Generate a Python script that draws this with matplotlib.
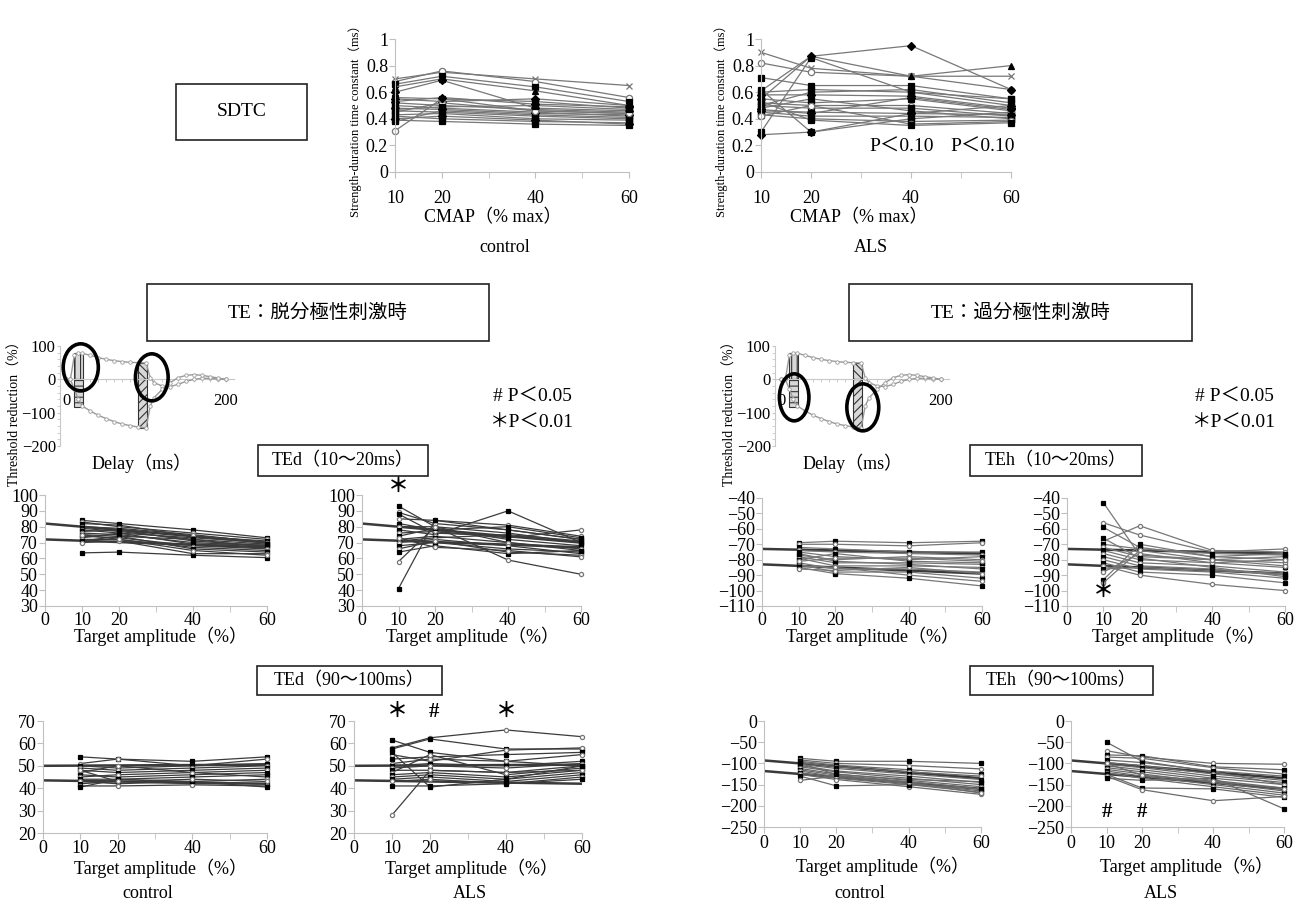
import matplotlib.pyplot as plt
from matplotlib.patches import Ellipse, Rectangle

plt.rcParams['font.family'] = ['Liberation Serif', 'Noto Sans CJK JP']
plt.rcParams['hatch.linewidth'] = 0.8

W, H = 1304, 902

# target amplitude / CMAP (%)
amp = [10, 20, 40, 60]

# strength-duration time constant (ms), one row per subject
sdtc_control = [
    [0.70, 0.75, 0.70, 0.65], [0.68, 0.76, 0.68, 0.56], [0.66, 0.72, 0.64, 0.53],
    [0.64, 0.70, 0.61, 0.50], [0.60, 0.69, 0.48, 0.46], [0.56, 0.55, 0.53, 0.48],
    [0.55, 0.53, 0.55, 0.50], [0.52, 0.50, 0.47, 0.45], [0.50, 0.48, 0.45, 0.42],
    [0.48, 0.47, 0.44, 0.43], [0.46, 0.45, 0.42, 0.40], [0.45, 0.52, 0.46, 0.44],
    [0.43, 0.44, 0.40, 0.39], [0.42, 0.40, 0.38, 0.37], [0.40, 0.42, 0.39, 0.36],
    [0.39, 0.38, 0.36, 0.35], [0.38, 0.46, 0.43, 0.41], [0.31, 0.55, 0.46, 0.44],
    [0.47, 0.49, 0.50, 0.47], [0.53, 0.56, 0.51, 0.49],
]
sdtc_als = [
    [0.90, 0.78, 0.72, 0.72], [0.82, 0.75, 0.72, 0.62], [0.71, 0.65, 0.65, 0.55],
    [0.61, 0.87, 0.72, 0.80], [0.55, 0.87, 0.95, 0.62], [0.30, 0.86, 0.60, 0.55],
    [0.28, 0.30, 0.44, 0.50], [0.62, 0.30, 0.40, 0.45], [0.60, 0.62, 0.60, 0.50],
    [0.58, 0.58, 0.57, 0.48], [0.55, 0.52, 0.55, 0.46], [0.52, 0.50, 0.50, 0.44],
    [0.50, 0.48, 0.48, 0.42], [0.48, 0.55, 0.46, 0.40], [0.46, 0.45, 0.44, 0.43],
    [0.45, 0.42, 0.42, 0.41], [0.43, 0.40, 0.38, 0.39], [0.42, 0.50, 0.36, 0.38],
    [0.50, 0.60, 0.62, 0.52], [0.47, 0.44, 0.56, 0.47], [0.53, 0.39, 0.35, 0.37],
]

# TEd (10-20ms), %
ted10_control = [
    [84, 82, 78, 73], [83, 80, 76, 72], [82, 81, 74, 71], [80, 79, 75, 70],
    [79, 77, 72, 69], [78, 76, 73, 70], [77, 78, 71, 68], [76, 75, 70, 68],
    [75, 74, 72, 67], [74, 73, 68, 66], [73, 76, 69, 69], [72, 72, 67, 65],
    [71, 74, 66, 64], [70, 71, 63, 63], [63.5, 64, 62, 60.5], [75, 72, 65, 62],
]
ted10_als = [
    [93, 80, 70, 65], [89, 82, 78, 72], [88, 76, 74, 70], [85, 84, 81, 74],
    [82, 78, 80, 73], [80, 80, 76, 70], [78, 75, 90, 70], [76, 77, 73, 78],
    [74, 79, 72, 68], [72, 74, 70, 66], [71, 73, 75, 71], [70, 72, 68, 63],
    [68, 70, 66, 64], [66, 71, 64, 62], [64, 68, 63, 65], [58, 80, 59, 50],
    [41, 84, 78, 72], [73, 67, 65, 61],
]

# TEh (10-20ms), %
teh10_control = [
    [-69, -68, -69, -68], [-70, -70, -71, -69], [-72, -73, -75, -75], [-74, -75, -76, -77],
    [-75, -78, -80, -78], [-77, -80, -78, -80], [-78, -82, -82, -83], [-79, -84, -84, -85],
    [-80, -76, -81, -82], [-82, -86, -86, -88], [-83, -88, -88, -92], [-84, -85, -90, -94],
    [-85, -89, -92, -97], [-86, -87, -85, -89], [-76, -81, -83, -86], [-81, -79, -79, -81],
]
teh10_als = [
    [-43, -77, -80, -78], [-56, -64, -75, -73], [-59, -72, -78, -80], [-68, -58, -74, -75],
    [-70, -73, -76, -77], [-72, -78, -80, -82], [-74, -80, -82, -85], [-76, -82, -84, -88],
    [-78, -84, -86, -90], [-80, -86, -88, -92], [-82, -88, -90, -95], [-84, -90, -96, -100],
    [-86, -85, -87, -89], [-88, -76, -82, -80], [-93, -70, -78, -76], [-95, -74, -80, -84],
    [-66, -79, -85, -91],
]

# TEd (90-100ms), %
ted90_control = [
    [54, 53, 52, 54], [51, 53, 50, 53], [50, 49, 50, 51], [49, 48, 49, 50],
    [48, 47, 48, 49], [47, 50, 47, 48], [46, 45, 46, 47], [45, 46, 47, 45],
    [44, 44, 45, 46], [43, 42, 43, 44], [42, 43, 42, 42], [41, 41, 41.5, 41],
    [40.5, 44, 43, 40.5], [48, 43, 44, 43],
]
ted90_als = [
    [61.5, 56, 52, 50], [58, 62.5, 66, 63], [57.5, 62, 57.5, 57.5], [55, 52, 57, 58],
    [53, 54, 55, 56], [51, 53, 52, 55], [50, 51, 50, 52], [49, 50, 49, 51],
    [48, 48, 47, 50], [47, 55, 46, 49], [46, 47, 45, 48], [45, 46, 44, 47],
    [44, 45, 43, 46], [43, 44, 42, 45], [41, 41, 42, 44], [28, 48, 47, 48],
    [56, 40.5, 44, 50],
]

# TEh (90-100ms), %
teh90_control = [
    [-88, -95, -95, -100], [-92, -100, -105, -113], [-95, -104, -115, -125],
    [-98, -108, -120, -130], [-102, -112, -125, -138], [-105, -118, -130, -145],
    [-108, -120, -135, -150], [-112, -125, -140, -155], [-115, -128, -143, -160],
    [-118, -132, -147, -165], [-122, -135, -150, -168], [-126, -138, -155, -173],
    [-130, -153, -150, -160], [-140, -130, -145, -170], [-100, -126, -138, -143],
]
teh90_als = [
    [-50, -95, -120, -150], [-70, -85, -100, -102], [-80, -82, -108, -115],
    [-85, -88, -110, -125], [-92, -98, -118, -130], [-98, -105, -125, -140],
    [-102, -110, -130, -145], [-106, -115, -135, -150], [-110, -120, -140, -158],
    [-114, -125, -145, -165], [-118, -130, -150, -170], [-122, -135, -155, -175],
    [-126, -158, -160, -180], [-130, -162, -188, -178], [-135, -140, -135, -207],
    [-100, -128, -142, -160],
]

# thick reference lines (x = 0 and 60)
ref_x = [0, 60]
ted10_ref = [[82, 70], [72, 67]]
teh10_ref = [[-73, -76], [-83, -89]]
ted90_ref = [[50, 50.5], [43.5, 42]]
teh90_ref = [[-93, -135], [-118, -160]]

# threshold electrotonus schematic
te_delay = [0, 5, 10, 15, 20, 30, 40, 50, 60, 70, 80, 90, 100, 105, 110, 120,
            130, 140, 150, 160, 170, 180, 190, 200]
te_dep = [0, 0, 72, 78, 78, 72, 65, 60, 56, 53, 51, 50, 49, 5, -10, -20,
          -22, -15, -6, 0, 3, 3, 1, 0]
te_hyp = [0, 0, -30, -60, -80, -95, -108, -118, -127, -134, -139, -143, -146, -80, -55, -30,
          -10, 5, 12, 14, 12, 8, 4, 0]
bar_windows = [10, 90]
bar_dep = [78, 50]
bar_hyp = [-84, -146]


fig = plt.figure(figsize=(W / 100, H / 100), dpi=100)


def rect(l, t, r, b):
    return [l / W, 1 - b / H, (r - l) / W, (b - t) / H]


def ftext(x, y, s, size=13, **kw):
    fig.text(x / W, 1 - y / H, s, fontsize=size, ha='center', va='center', **kw)


def box(l, t, r, b, s, size=14):
    fig.add_artist(Rectangle((l / W, 1 - b / H), (r - l) / W, (b - t) / H,
                             transform=fig.transFigure, fill=False, lw=1.2, ec='#222222'))
    ftext((l + r) / 2, (t + b) / 2, s, size)


def panel(l, t, r, b, xlim, ylim, yticks, ylabels, xticks, xminor, pad):
    ax = fig.add_axes(rect(l, t, r, b))
    ax.set_xlim(*xlim)
    ax.set_ylim(*ylim)
    ax.spines[['top', 'right']].set_visible(False)
    ax.spines[['left', 'bottom']].set_color('#c0c0c0')
    ax.set_yticks(yticks, ylabels)
    ax.set_xticks(xticks, [str(v) for v in xticks])
    ax.set_xticks(xminor, minor=True)
    ax.tick_params(which='both', color='#c0c0c0', length=4, labelsize=13)
    ax.tick_params(axis='x', pad=pad)
    ax.tick_params(axis='y', pad=1)
    ax.patch.set_alpha(0)
    return ax


def subjects(ax, data, color, ms, markers):
    for i, row in enumerate(data):
        m = markers[i % len(markers)]
        if m == 'o':
            fc, ec = 'white', '#777777'
        elif m == 'x':
            fc, ec = '#777777', '#777777'
        else:
            fc, ec = 'black', 'black'
        ax.plot(amp, row, color=color, lw=0.9, marker=m, ms=ms, mfc=fc, mec=ec,
                mew=0.9, clip_on=False)


def mark(ax, x, y, s, **kw):
    ax.text(x, y, s, fontsize=15, fontweight='bold', ha='center', va='center',
            clip_on=False, **kw)


# ---------------- SDTC ----------------
box(176, 84, 307, 140, 'SDTC', 14)
sd_marks = ['x', 'o', 's', '^', 'D', 's', 'D', 's', 's', 'D', 's', 'o', 's', 's', 'D', 's', 's', 'o', 's', 'D', 's']
sd_yt = [0, 0.2, 0.4, 0.6, 0.8, 1]
sd_yl = ['0', '0.2', '0.4', '0.6', '0.8', '1']
for (l, r), data, grp in [((395, 629), sdtc_control, 'control'), ((761, 1011), sdtc_als, 'ALS')]:
    ax = panel(l, 39, r, 172, (10, 60), (0, 1), sd_yt, sd_yl, [10, 20, 40, 60], [30, 50], 9)
    subjects(ax, data, '#777777', 4.5, sd_marks)
    fig.text((l - 40) / W, 1 - 118 / H, 'Strength-duration time constant（ms）', fontsize=9,
             rotation=90, ha='center', va='center')
    ftext(l + 98, 218, 'CMAP（% max）')
    ftext(l + 110, 247, grp)
ftext(902, 147, 'P＜0.10', 14)
ftext(983, 147, 'P＜0.10', 14)

# ---------------- TE schematics ----------------
box(147, 284, 489, 341, 'TE：脱分極性刺激時', 14)
box(849, 284, 1192, 341, 'TE：過分極性刺激時', 14)

circles = {
    0: [(18, 36, 44, 141), (107, 6, 41, 141)],
    715: [(16, -54, 37, 141), (102, -84, 40, 141)],
}
for off in [0, 715]:
    ai = fig.add_axes(rect(60 + off, 346, 234 + off, 446))
    ai.set_xlim(-8, 210)
    ai.set_ylim(-200, 100)
    ai.spines[['top', 'right']].set_visible(False)
    ai.spines['bottom'].set_position(('data', 0))
    ai.spines[['left', 'bottom']].set_color('#c8c8c8')
    ai.set_yticks([100, 0, -100, -200], ['100', '0', '−100', '−200'])
    ai.set_yticks(range(-200, 101, 20), minor=True)
    ai.set_xticks([0, 200], ['0', '200'])
    ai.set_xticks(range(0, 201, 10), minor=True)
    ai.tick_params(which='both', color='#c8c8c8', length=2, labelsize=12)
    ai.tick_params(axis='x', pad=8)
    ai.tick_params(axis='y', pad=1)
    ai.patch.set_alpha(0)
    hatch_dep = ['|||', '\\\\\\\\']
    hatch_hyp = ['---', '////']
    for k, x0 in enumerate(bar_windows):
        ai.bar(x0, bar_dep[k], width=11, align='edge', color='#d8d8d8', ec='#333333',
               lw=0.8, hatch=hatch_dep[k], zorder=2)
        ai.bar(x0, bar_hyp[k], width=11, align='edge', color='#d8d8d8', ec='#333333',
               lw=0.8, hatch=hatch_hyp[k], zorder=2)
    for curve in [te_dep, te_hyp]:
        ai.plot(te_delay, curve, color='#9a9a9a', lw=1.0, marker='o', ms=2.5,
                mfc='white', mec='#9a9a9a', mew=0.6, zorder=3)
    for (cx, cy, cw, ch) in circles[off]:
        ai.add_patch(Ellipse((cx, cy), cw, ch, fill=False, lw=2.6, ec='black',
                             clip_on=False, zorder=5))
    fig.text((15 + off) / W, 1 - 410 / H, 'Threshold reduction（%）', fontsize=10,
             rotation=90, ha='center', va='center')
    ftext(142 + off - (4 if off else 0), 463, 'Delay（ms）')

ftext(532, 397, '# P＜0.05', 14)
ftext(532, 423, '＊P＜0.01', 14)
ftext(1234, 397, '# P＜0.05', 14)
ftext(1234, 423, '＊P＜0.01', 14)

# ---------------- TE panels ----------------
te_marks = ['s', 'o']
xt = [0, 10, 20, 40, 60]
xm = [30, 50]


def te_panel(l, t, r, b, ylim, yt, data, ref, color, xpad):
    yl = [str(v).replace('-', '−') for v in yt]
    ax = panel(l, t, r, b, (0, 60), ylim, yt, yl, xt, xm, xpad)
    for row in ref:
        ax.plot(ref_x, row, color='#3a3a3a', lw=1.8, zorder=1)
    subjects(ax, data, color, 3, te_marks)
    return ax


box(258, 445, 428, 476, 'TEd（10〜20ms）', 13)
box(970, 445, 1142, 476, 'TEh（10〜20ms）', 13)
yt_d10 = list(range(30, 101, 10))
yt_h10 = list(range(-110, -39, 10))
te_panel(45, 495, 267, 606, (30, 100), yt_d10, ted10_control, ted10_ref, '#3c3c3c', 0)
a = te_panel(362, 495, 581, 606, (30, 100), yt_d10, ted10_als, ted10_ref, '#3c3c3c', 0)
mark(a, 10, 105, '＊')
te_panel(762, 498, 982, 606, (-110, -40), yt_h10, teh10_control, teh10_ref, '#777777', 0)
a = te_panel(1067, 498, 1285, 606, (-110, -40), yt_h10, teh10_als, teh10_ref, '#777777', 0)
mark(a, 10, -101, '＊')
for x in [160, 472, 873, 1178]:
    ftext(x, 636, 'Target amplitude（%）')

box(257, 666, 442, 695, 'TEd（90〜100ms）', 13)
box(970, 666, 1153, 695, 'TEh（90〜100ms）', 13)
yt_d90 = list(range(20, 71, 10))
yt_h90 = list(range(-250, 1, 50))
te_panel(43, 721, 267, 833, (20, 70), yt_d90, ted90_control, ted90_ref, '#3c3c3c', 1)
a = te_panel(354, 721, 582, 833, (20, 70), yt_d90, ted90_als, ted90_ref, '#3c3c3c', 1)
mark(a, 11.5, 74, '＊')
mark(a, 21, 74, '#')
mark(a, 40, 74, '＊')
te_panel(764, 721, 981, 827, (-250, 0), yt_h90, teh90_control, teh90_ref, '#6a6a6a', 2)
a = te_panel(1071, 721, 1284, 827, (-250, 0), yt_h90, teh90_als, teh90_ref, '#6a6a6a', 2)
mark(a, 10, -215, '#')
mark(a, 20, -215, '#')
for x, y in [(160, 868), (471, 868), (882, 866), (1186, 866)]:
    ftext(x, y, 'Target amplitude（%）')
for x, s in [(148, 'control'), (470, 'ALS'), (860, 'control'), (1161, 'ALS')]:
    ftext(x, 893, s)

fig.savefig('out.png', dpi=100)
